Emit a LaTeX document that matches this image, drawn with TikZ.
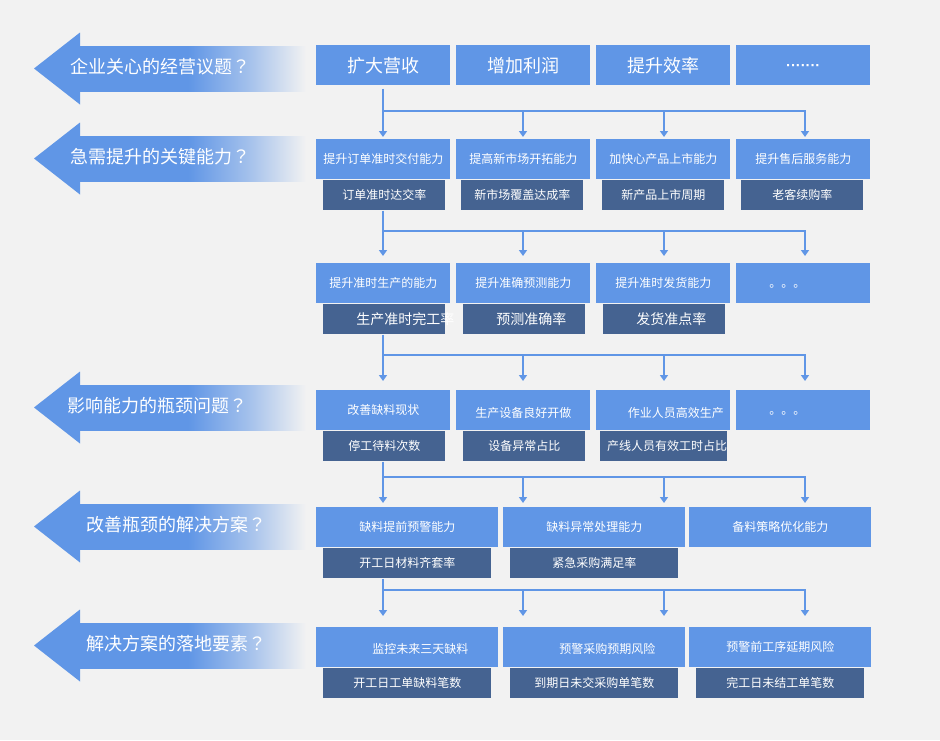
\documentclass[tikz,border=0pt]{standalone}
\usepackage{fontspec}
\setmainfont{Noto Sans CJK SC}
\newfontfamily\tcfont{Noto Sans CJK TC}
\newfontfamily\latfont{Liberation Sans}
\usetikzlibrary{arrows.meta}
\definecolor{bg}{HTML}{F2F2F2}
\definecolor{lb}{RGB}{96,150,230}
\definecolor{db}{RGB}{69,99,145}
\pgfdeclarehorizontalshading{shaftsh}{100bp}{color(0bp)=(lb); color(25bp)=(lb); color(49bp)=(lb); color(62bp)=(lb!55!bg); color(75bp)=(bg); color(100bp)=(bg)}
\newcommand\qm{{\tcfont ？}}
\begin{document}
\begin{tikzpicture}[x=0.75pt,y=-0.75pt,
  every node/.style={inner sep=0pt, text=white},
  f18/.style={font=\fontsize{13.5}{15}\selectfont},
  f14/.style={font=\fontsize{10.5}{12}\selectfont},
  f12/.style={font=\fontsize{9}{11}\selectfont},
  lt/.style 2 args={fill=lb, anchor=north west, minimum width=#1*0.75pt, minimum height=#2*0.75pt, f12},
  dk/.style 2 args={fill=db, anchor=north west, minimum width=#1*0.75pt, minimum height=#2*0.75pt, f12},
  tx/.style={text=white, f12},
  ln/.style={draw=lb, line width=1.9pt},
  conn/.style={ln, -{Triangle[length=4.5pt,width=6pt]}},
  qtext/.style={anchor=west, f18}
]
\useasboundingbox (0,0) rectangle (940,740);
\fill[bg] (0,0) rectangle (940,740);

% left question arrows
\foreach \cy/\tx/\lbl/\nm in {68.5/70/企业关心的经营议题/q1,
                              158.5/70/急需提升的关键能力/q2,
                              407.5/67/影响能力的瓶颈问题/q3,
                              526.5/86/改善瓶颈的解决方案/q4,
                              645.5/86/解决方案的落地要素/q5}{
  \begin{scope}[shift={(0,\cy)}]
    \fill[lb] (34,0) -- (80,-36) -- (80,36) -- cycle;
    \shade[shading=shaftsh] (79.5,-22.5) rectangle (306,22.5);
  \end{scope}
  \node[qtext] (\nm) at (\tx,\cy-2) {\lbl\qm};
}

% column coordinates and junction levels
\coordinate (c1) at (383,0);
\coordinate (c2) at (523,0);
\coordinate (c3) at (664,0);
\coordinate (c4) at (805,0);
\coordinate (h1) at (0,111);
\coordinate (h2) at (0,231);
\coordinate (h3) at (0,355);
\coordinate (h4) at (0,477);
\coordinate (h5) at (0,590);

% row 1
\node[lt={134}{40}, f18] (r1a) at (316,45) {扩大营收};
\node[lt={134}{40}, f18] (r1b) at (456,45) {增加利润};
\node[lt={134}{40}, f18] (r1c) at (596,45) {提升效率};
\node[lt={134}{40}, label={[text=white, font=\latfont\bfseries\fontsize{11}{12}\selectfont, yshift=-1.5pt]center:·······}] (r1d) at (736,45) {};

% row 2
\node[lt={134}{40}] (r2a) at (316,139) {提升订单准时交付能力};
\node[lt={134}{40}] (r2b) at (456,139) {提高新市场开拓能力};
\node[lt={134}{40}] (r2c) at (596,139) {加快心产品上市能力};
\node[lt={134}{40}] (r2d) at (736,139) {提升售后服务能力};
\node[dk={122}{30}] (s2a) at (323,180) {订单准时达交率};
\node[dk={122}{30}] (s2b) at (461,180) {新市场覆盖达成率};
\node[dk={122}{30}] (s2c) at (602,180) {新产品上市周期};
\node[dk={122}{30}] (s2d) at (741,180) {老客续购率};

% row 3
\node[lt={134}{40}] (r3a) at (316,263) {提升准时生产的能力};
\node[lt={134}{40}] (r3b) at (456,263) {提升准确预测能力};
\node[lt={134}{40}] (r3c) at (596,263) {提升准时发货能力};
\node[lt={134}{40}, label={[tx, xshift=-12pt, yshift=-2pt]center:。。。}] (r3d) at (736,263) {};
\node[dk={122}{30}, label={[tx, f14, xshift=15.75pt]center:生产准时完工率}] (s3a) at (323,304) {};
\node[dk={122}{30}, label={[tx, f14, xshift=5.25pt]center:预测准确率}] (s3b) at (463,304) {};
\node[dk={122}{30}, label={[tx, f14, xshift=5.25pt]center:发货准点率}] (s3c) at (603,304) {};

% row 4
\node[lt={134}{40}] (r4a) at (316,390) {改善缺料现状};
\node[lt={134}{40}, label={[tx, yshift=-2pt]center:生产设备良好开做}] (r4b) at (456,390) {};
\node[lt={134}{40}, label={[tx, xshift=9.5pt, yshift=-2pt]center:作业人员高效生产}] (r4c) at (596,390) {};
\node[lt={134}{40}, label={[tx, xshift=-12pt, yshift=-2pt]center:。。。}] (r4d) at (736,390) {};
\node[dk={122}{30}] (s4a) at (323,431) {停工待料次数};
\node[dk={122}{30}] (s4b) at (463,431) {设备异常占比};
\node[dk={127}{30}, label={[tx, xshift=2.5pt]center:产线人员有效工时占比}] (s4c) at (600,431) {};

% row 5
\node[lt={182}{40}] (r5a) at (316,507) {缺料提前预警能力};
\node[lt={182}{40}] (r5b) at (503,507) {缺料异常处理能力};
\node[lt={182}{40}] (r5c) at (689,507) {备料策略优化能力};
\node[dk={168}{30}] (s5a) at (323,548) {开工日材料齐套率};
\node[dk={168}{30}] (s5b) at (510,548) {紧急采购满足率};

% row 6
\node[lt={182}{40}, label={[tx, xshift=9.75pt, yshift=-1.5pt]center:监控未来三天缺料}] (r6a) at (316,627) {};
\node[lt={182}{40}, label={[tx, xshift=9.75pt, yshift=-1.5pt]center:预警采购预期风险}] (r6b) at (503,627) {};
\node[lt={182}{40}] (r6c) at (689,627) {预警前工序延期风险};
\node[dk={168}{30}] (s6a) at (323,668) {开工日工单缺料笔数};
\node[dk={168}{30}] (s6b) at (510,668) {到期日未交采购单笔数};
\node[dk={168}{30}] (s6c) at (696,668) {完工日未结工单笔数};

% connectors 1 -> 2
\draw[conn, shorten <=2.25pt, shorten >=1.5pt] (c1 |- r1a.south) -- (c1 |- r2a.north);
\draw[conn, shorten >=1.5pt] (c1 |- h1) -| (c4 |- r2d.north);
\draw[conn, shorten >=1.5pt] (c2 |- h1) -- (c2 |- r2b.north);
\draw[conn, shorten >=1.5pt] (c3 |- h1) -- (c3 |- r2c.north);

% connectors 2 -> 3
\draw[conn, shorten >=5.25pt] (c1 |- s2a.south) -- (c1 |- r3a.north);
\draw[conn, shorten >=5.25pt] (c1 |- h2) -| (c4 |- r3d.north);
\draw[conn, shorten >=5.25pt] (c2 |- h2) -- (c2 |- r3b.north);
\draw[conn, shorten >=5.25pt] (c3 |- h2) -- (c3 |- r3c.north);

% connectors 3 -> 4
\draw[conn, shorten >=6.75pt] (c1 |- s3a.south) -- (c1 |- r4a.north);
\draw[conn, shorten >=6.75pt] (c1 |- h3) -| (c4 |- r4d.north);
\draw[conn, shorten >=6.75pt] (c2 |- h3) -- (c2 |- r4b.north);
\draw[conn, shorten >=6.75pt] (c3 |- h3) -- (c3 |- r4c.north);

% connectors 4 -> 5
\draw[conn, shorten >=3pt] (c1 |- s4a.south) -- (c1 |- r5a.north);
\draw[conn, shorten >=3pt] (c1 |- h4) -| (c4 |- r5c.north);
\draw[conn, shorten >=3pt] (c2 |- h4) -- (c2 |- r5b.north);
\draw[conn, shorten >=3pt] (c3 |- h4) -- (c3 |- r5c.north);

% connectors 5 -> 6
\draw[conn, shorten >=8.25pt] (c1 |- s5a.south) -- (c1 |- r6a.north);
\draw[conn, shorten >=8.25pt] (c1 |- h5) -| (c4 |- r6c.north);
\draw[conn, shorten >=8.25pt] (c2 |- h5) -- (c2 |- r6b.north);
\draw[conn, shorten >=8.25pt] (c3 |- h5) -- (c3 |- r6c.north);
\end{tikzpicture}
\end{document}
